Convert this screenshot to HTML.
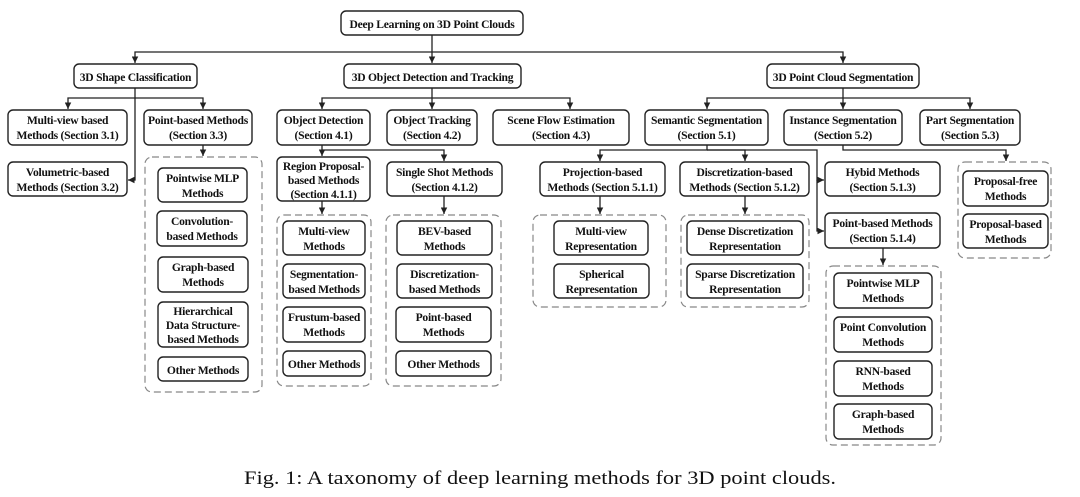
<!DOCTYPE html>
<html><head><meta charset="utf-8"><style>
html,body{margin:0;padding:0;background:#fff;width:1080px;height:497px;overflow:hidden}
svg text{font-family:"Liberation Serif",serif;font-weight:bold;font-size:11.6px;letter-spacing:-0.25px;fill:#111;text-anchor:middle}
.b{fill:#fff;stroke:#222;stroke-width:1.4}
.d{fill:none;stroke:#888;stroke-width:1.2;stroke-dasharray:7,4}
.l{fill:none;stroke:#222;stroke-width:1.3}
</style></head><body>
<svg width="1080" height="497" viewBox="0 0 1080 497" xmlns="http://www.w3.org/2000/svg">
<defs><marker id="a" viewBox="0 0 10 10" refX="10" refY="5" markerWidth="5" markerHeight="5" orient="auto"><path d="M0,0L10,5L0,10z" fill="#222"/></marker></defs>

<g class="l" marker-end="url(#a)">
<path d="M432,35V63"/><path d="M432,52H135V63"/><path d="M432,52H843V63"/>
<path d="M135,88V98H68V109"/><path d="M135,98H203V109"/><path d="M135,98V180H128"/>
<path d="M432,88V109"/><path d="M432,98H322V109"/><path d="M432,98H570V109"/>
<path d="M843,88V109"/><path d="M843,98H707V109"/><path d="M843,98H970V109"/>
<path d="M203,145V156"/>
<path d="M322,145V156"/><path d="M322,150H444V161"/>
<path d="M322,201V214"/><path d="M444,196V214"/>
<path d="M707,145V150H600V161"/><path d="M707,150H745V161"/><path d="M707,150H817V180H824"/><path d="M817,180V231H824"/>
<path d="M843,145V150H1006V161"/>
<path d="M600,196V214"/><path d="M745,196V214"/><path d="M883,248V265"/>
</g>

<rect class="d" x="145" y="157" width="117" height="235" rx="7"/>
<rect class="d" x="277" y="215" width="94" height="171" rx="7"/>
<rect class="d" x="386" y="215" width="115" height="171" rx="7"/>
<rect class="d" x="533" y="215" width="133" height="92" rx="7"/>
<rect class="d" x="681" y="215" width="128" height="92" rx="7"/>
<rect class="d" x="826" y="266" width="115" height="179" rx="7"/>
<rect class="d" x="958" y="162" width="93" height="96" rx="7"/>

<rect class="b" x="341" y="11" width="182" height="24" rx="5"/><text x="432" y="28">Deep Learning on 3D Point Clouds</text>
<rect class="b" x="74" y="64" width="123" height="24" rx="5"/><text x="135.5" y="81">3D Shape Classification</text>
<rect class="b" x="344" y="64" width="177" height="24" rx="5"/><text x="432.5" y="81">3D Object Detection and Tracking</text>
<rect class="b" x="767" y="64" width="152" height="24" rx="5"/><text x="843" y="81">3D Point Cloud Segmentation</text>

<rect class="b" x="8" y="110" width="119" height="35" rx="5"/><text x="67.5" y="124">Multi-view based</text><text x="67.5" y="139">Methods (Section 3.1)</text>
<rect class="b" x="144" y="110" width="108" height="35" rx="5"/><text x="198" y="124">Point-based Methods</text><text x="198" y="139">(Section 3.3)</text>
<rect class="b" x="277" y="110" width="93" height="35" rx="5"/><text x="323.5" y="124">Object Detection</text><text x="323.5" y="139">(Section 4.1)</text>
<rect class="b" x="387" y="110" width="90" height="35" rx="5"/><text x="432" y="124">Object Tracking</text><text x="432" y="139">(Section 4.2)</text>
<rect class="b" x="493" y="110" width="136" height="35" rx="5"/><text x="561" y="124">Scene Flow Estimation</text><text x="561" y="139">(Section 4.3)</text>
<rect class="b" x="645" y="110" width="123" height="35" rx="5"/><text x="706.5" y="124">Semantic Segmentation</text><text x="706.5" y="139">(Section 5.1)</text>
<rect class="b" x="784" y="110" width="118" height="35" rx="5"/><text x="843" y="124">Instance Segmentation</text><text x="843" y="139">(Section 5.2)</text>
<rect class="b" x="920" y="110" width="100" height="35" rx="5"/><text x="970" y="124">Part Segmentation</text><text x="970" y="139">(Section 5.3)</text>

<rect class="b" x="8" y="162" width="119" height="34" rx="5"/><text x="67.5" y="176">Volumetric-based</text><text x="67.5" y="191">Methods (Section 3.2)</text>
<rect class="b" x="277" y="157" width="93" height="44" rx="5"/><text x="323.5" y="170">Region Proposal-</text><text x="323.5" y="184">based Methods</text><text x="323.5" y="198">(Section 4.1.1)</text>
<rect class="b" x="387" y="162" width="115" height="34" rx="5"/><text x="444.5" y="176">Single Shot Methods</text><text x="444.5" y="191">(Section 4.1.2)</text>
<rect class="b" x="540" y="162" width="125" height="34" rx="5"/><text x="602.5" y="176">Projection-based</text><text x="602.5" y="191">Methods (Section 5.1.1)</text>
<rect class="b" x="680" y="162" width="129" height="34" rx="5"/><text x="744.5" y="176">Discretization-based</text><text x="744.5" y="191">Methods (Section 5.1.2)</text>
<rect class="b" x="825" y="162" width="115" height="34" rx="5"/><text x="882.5" y="176">Hybid Methods</text><text x="882.5" y="191">(Section 5.1.3)</text>
<rect class="b" x="825" y="213" width="115" height="35" rx="5"/><text x="882.5" y="227">Point-based Methods</text><text x="882.5" y="242">(Section 5.1.4)</text>

<rect class="b" x="158" y="168" width="89" height="34" rx="5"/><text x="202.5" y="182">Pointwise MLP</text><text x="202.5" y="197">Methods</text>
<rect class="b" x="157" y="211" width="90" height="35" rx="5"/><text x="202" y="225">Convolution-</text><text x="202" y="240">based Methods</text>
<rect class="b" x="158" y="257" width="90" height="35" rx="5"/><text x="203" y="271">Graph-based</text><text x="203" y="286">Methods</text>
<rect class="b" x="158" y="302" width="90" height="45" rx="5"/><text x="203" y="315">Hierarchical</text><text x="203" y="329">Data Structure-</text><text x="203" y="343">based Methods</text>
<rect class="b" x="158" y="357" width="90" height="24" rx="5"/><text x="203" y="374">Other Methods</text>

<rect class="b" x="283" y="221" width="82" height="34" rx="5"/><text x="324" y="235">Multi-view</text><text x="324" y="250">Methods</text>
<rect class="b" x="283" y="264" width="82" height="34" rx="5"/><text x="324" y="278">Segmentation-</text><text x="324" y="293">based Methods</text>
<rect class="b" x="283" y="307" width="82" height="35" rx="5"/><text x="324" y="321">Frustum-based</text><text x="324" y="336">Methods</text>
<rect class="b" x="283" y="351" width="82" height="25" rx="5"/><text x="324" y="368">Other Methods</text>

<rect class="b" x="397" y="221" width="95" height="34" rx="5"/><text x="444.5" y="235">BEV-based</text><text x="444.5" y="250">Methods</text>
<rect class="b" x="397" y="264" width="95" height="34" rx="5"/><text x="444.5" y="278">Discretization-</text><text x="444.5" y="293">based Methods</text>
<rect class="b" x="396" y="307" width="95" height="35" rx="5"/><text x="443.5" y="321">Point-based</text><text x="443.5" y="336">Methods</text>
<rect class="b" x="396" y="351" width="95" height="25" rx="5"/><text x="443.5" y="368">Other Methods</text>

<rect class="b" x="554" y="221" width="94" height="34" rx="5"/><text x="601" y="235">Multi-view</text><text x="601" y="250">Representation</text>
<rect class="b" x="554" y="264" width="95" height="34" rx="5"/><text x="601.5" y="278">Spherical</text><text x="601.5" y="293">Representation</text>

<rect class="b" x="687" y="221" width="116" height="34" rx="5"/><text x="745" y="235">Dense Discretization</text><text x="745" y="250">Representation</text>
<rect class="b" x="687" y="264" width="116" height="34" rx="5"/><text x="745" y="278">Sparse Discretization</text><text x="745" y="293">Representation</text>

<rect class="b" x="834" y="273" width="98" height="35" rx="5"/><text x="883" y="287">Pointwise MLP</text><text x="883" y="302">Methods</text>
<rect class="b" x="834" y="317" width="98" height="35" rx="5"/><text x="883" y="331">Point Convolution</text><text x="883" y="346">Methods</text>
<rect class="b" x="834" y="361" width="98" height="35" rx="5"/><text x="883" y="375">RNN-based</text><text x="883" y="390">Methods</text>
<rect class="b" x="834" y="404" width="98" height="35" rx="5"/><text x="883" y="418">Graph-based</text><text x="883" y="433">Methods</text>

<rect class="b" x="963" y="171" width="85" height="35" rx="5"/><text x="1005.5" y="185">Proposal-free</text><text x="1005.5" y="200">Methods</text>
<rect class="b" x="963" y="214" width="85" height="34" rx="5"/><text x="1005.5" y="228">Proposal-based</text><text x="1005.5" y="243">Methods</text>

<text x="540" y="484" style="font-weight:normal;font-size:18.5px;letter-spacing:0" textLength="592" lengthAdjust="spacingAndGlyphs">Fig. 1: A taxonomy of deep learning methods for 3D point clouds.</text>
</svg>
</body></html>
